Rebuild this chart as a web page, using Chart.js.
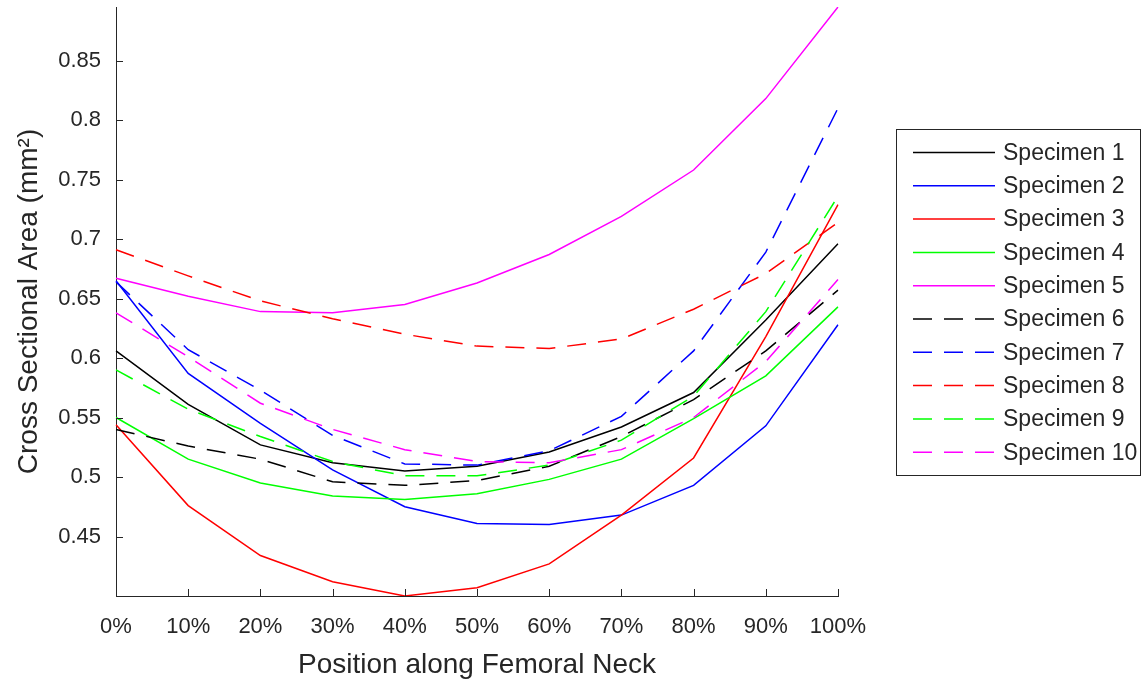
<!DOCTYPE html>
<html>
<head>
<meta charset="utf-8">
<script src="https://cdn.jsdelivr.net/npm/chart.js@4.4.0/dist/chart.umd.min.js"></script>
<style>
  html, body { margin: 0; padding: 0; background: #fff; }
  canvas { display: block; }
</style>
</head>
<body>
<canvas id="neckChart" width="1143" height="682"></canvas>
<script>
// cross sectional area at each position along the femoral neck
const positions = ['0%', '10%', '20%', '30%', '40%', '50%', '60%', '70%', '80%', '90%', '100%'];
const yTickValues = [0.45, 0.5, 0.55, 0.6, 0.65, 0.7, 0.75, 0.8, 0.85];

const specimen1  = [0.606, 0.561, 0.527, 0.512, 0.505, 0.509, 0.521, 0.542, 0.571, 0.632, 0.696];
const specimen2  = [0.665, 0.587, 0.545, 0.506, 0.475, 0.461, 0.460, 0.468, 0.493, 0.543, 0.628];
const specimen3  = [0.544, 0.476, 0.434, 0.412, 0.400, 0.407, 0.427, 0.468, 0.516, 0.618, 0.729];
const specimen4  = [0.550, 0.515, 0.495, 0.484, 0.481, 0.486, 0.498, 0.515, 0.549, 0.585, 0.643];
const specimen5  = [0.667, 0.652, 0.639, 0.638, 0.645, 0.663, 0.687, 0.719, 0.758, 0.818, 0.895];
const specimen6  = [0.540, 0.526, 0.515, 0.496, 0.493, 0.497, 0.509, 0.534, 0.565, 0.606, 0.657];
const specimen7  = [0.664, 0.607, 0.573, 0.535, 0.511, 0.510, 0.522, 0.551, 0.606, 0.689, 0.810];
const specimen8  = [0.691, 0.669, 0.648, 0.633, 0.620, 0.610, 0.608, 0.616, 0.641, 0.671, 0.714];
const specimen9  = [0.590, 0.557, 0.534, 0.513, 0.501, 0.501, 0.510, 0.531, 0.568, 0.639, 0.736];
const specimen10 = [0.638, 0.601, 0.562, 0.540, 0.523, 0.513, 0.512, 0.523, 0.550, 0.597, 0.666];

const axisColor = '#262626';
const fontFamily = '"Liberation Sans", Arial, Helvetica, sans-serif';

const allSeries = [specimen1, specimen2, specimen3, specimen4, specimen5,
                   specimen6, specimen7, specimen8, specimen9, specimen10];
const lineColors = ['#000000', '#0000ff', '#ff0000', '#00ff00', '#ff00ff'];
const dashPattern = [19, 12];

// axis tight: limits come straight from the data
const yMin = Math.min.apply(null, allSeries.map(s => Math.min.apply(null, s)));
const yMax = Math.max.apply(null, allSeries.map(s => Math.max.apply(null, s)));

const datasets = allSeries.map(function(series, i) {
    return {
        label: 'Specimen ' + (i + 1),
        data: series,
        borderColor: lineColors[i % 5],
        backgroundColor: lineColors[i % 5],
        borderWidth: 1.5,
        borderDash: i < 5 ? [] : dashPattern,
        pointRadius: 0,
        tension: 0,
        fill: false,
        order: allSeries.length - i
    };
});

// matlab style ticks pointing into the plot
const insideTicks = {
    id: 'insideTicks',
    afterDraw(chart) {
        const ctx = chart.ctx;
        const area = chart.chartArea;
        const xs = chart.scales.x, ys = chart.scales.y;
        ctx.save();
        ctx.strokeStyle = axisColor;
        ctx.lineWidth = 1;
        ctx.beginPath();
        xs.ticks.forEach(function(t, i) {
            const px = Math.round(xs.getPixelForTick(i)) + 0.5;
            ctx.moveTo(px, area.bottom);
            ctx.lineTo(px, area.bottom - 7);
        });
        ys.ticks.forEach(function(t) {
            const py = Math.round(ys.getPixelForValue(t.value)) + 0.5;
            ctx.moveTo(area.left, py);
            ctx.lineTo(area.left + 7, py);
        });
        ctx.stroke();
        ctx.restore();
    }
};

// boxed legend to the right of the axes
const boxLegend = {
    id: 'boxLegend',
    afterDraw(chart) {
        const ctx = chart.ctx;
        const left = 896.5, top = 129.5, right = 1140.5, bottom = 475.5;
        ctx.save();
        ctx.fillStyle = '#ffffff';
        ctx.fillRect(left, top, right - left, bottom - top);
        ctx.strokeStyle = axisColor;
        ctx.lineWidth = 1;
        ctx.strokeRect(left, top, right - left, bottom - top);
        ctx.font = '23px ' + fontFamily;
        ctx.textBaseline = 'middle';
        ctx.textAlign = 'left';
        chart.data.datasets.forEach(function(ds, i) {
            const y = 152.5 + i * 33.3;
            ctx.strokeStyle = ds.borderColor;
            ctx.lineWidth = ds.borderWidth;
            ctx.setLineDash(ds.borderDash);
            ctx.beginPath();
            ctx.moveTo(913, y);
            ctx.lineTo(995, y);
            ctx.stroke();
            ctx.setLineDash([]);
            ctx.fillStyle = axisColor;
            ctx.fillText(ds.label, 1003, y + 1);
        });
        ctx.restore();
    }
};

new Chart(document.getElementById('neckChart'), {
    type: 'line',
    data: { labels: positions, datasets: datasets },
    plugins: [insideTicks, boxLegend],
    options: {
        responsive: false,
        animation: false,
        devicePixelRatio: 1,
        layout: { padding: { top: 7, right: 305, bottom: 0, left: 0 } },
        plugins: {
            legend: { display: false },
            tooltip: { enabled: false }
        },
        scales: {
            x: {
                type: 'category',
                offset: false,
                grid: { display: false, drawTicks: false },
                border: { display: true, color: axisColor, width: 1 },
                ticks: {
                    color: axisColor,
                    font: { family: fontFamily, size: 22 },
                    padding: 18,
                    maxRotation: 0,
                    autoSkip: false
                },
                title: {
                    display: true,
                    text: 'Position along Femoral Neck',
                    color: axisColor,
                    font: { family: fontFamily, size: 28 },
                    padding: { top: 0, bottom: 0 }
                },
                afterFit(scale) {
                    scale.height = 86;
                    scale.paddingLeft = 0;
                    scale.paddingRight = 0;
                }
            },
            y: {
                min: yMin,
                max: yMax,
                grid: { display: false, drawTicks: false },
                border: { display: true, color: axisColor, width: 1 },
                ticks: {
                    color: axisColor,
                    font: { family: fontFamily, size: 22 },
                    padding: 15,
                    callback: v => String(Number(v.toFixed(2)))
                },
                afterBuildTicks(scale) {
                    scale.ticks = yTickValues.map(v => ({ value: v }));
                },
                title: {
                    display: true,
                    text: 'Cross Sectional Area (mm²)',
                    color: axisColor,
                    font: { family: fontFamily, size: 28 },
                    padding: { top: 12, bottom: 0 }
                },
                afterFit(scale) {
                    scale.width = 116;
                    scale.paddingTop = 0;
                    scale.paddingBottom = 0;
                }
            }
        }
    }
});
</script>
</body>
</html>
